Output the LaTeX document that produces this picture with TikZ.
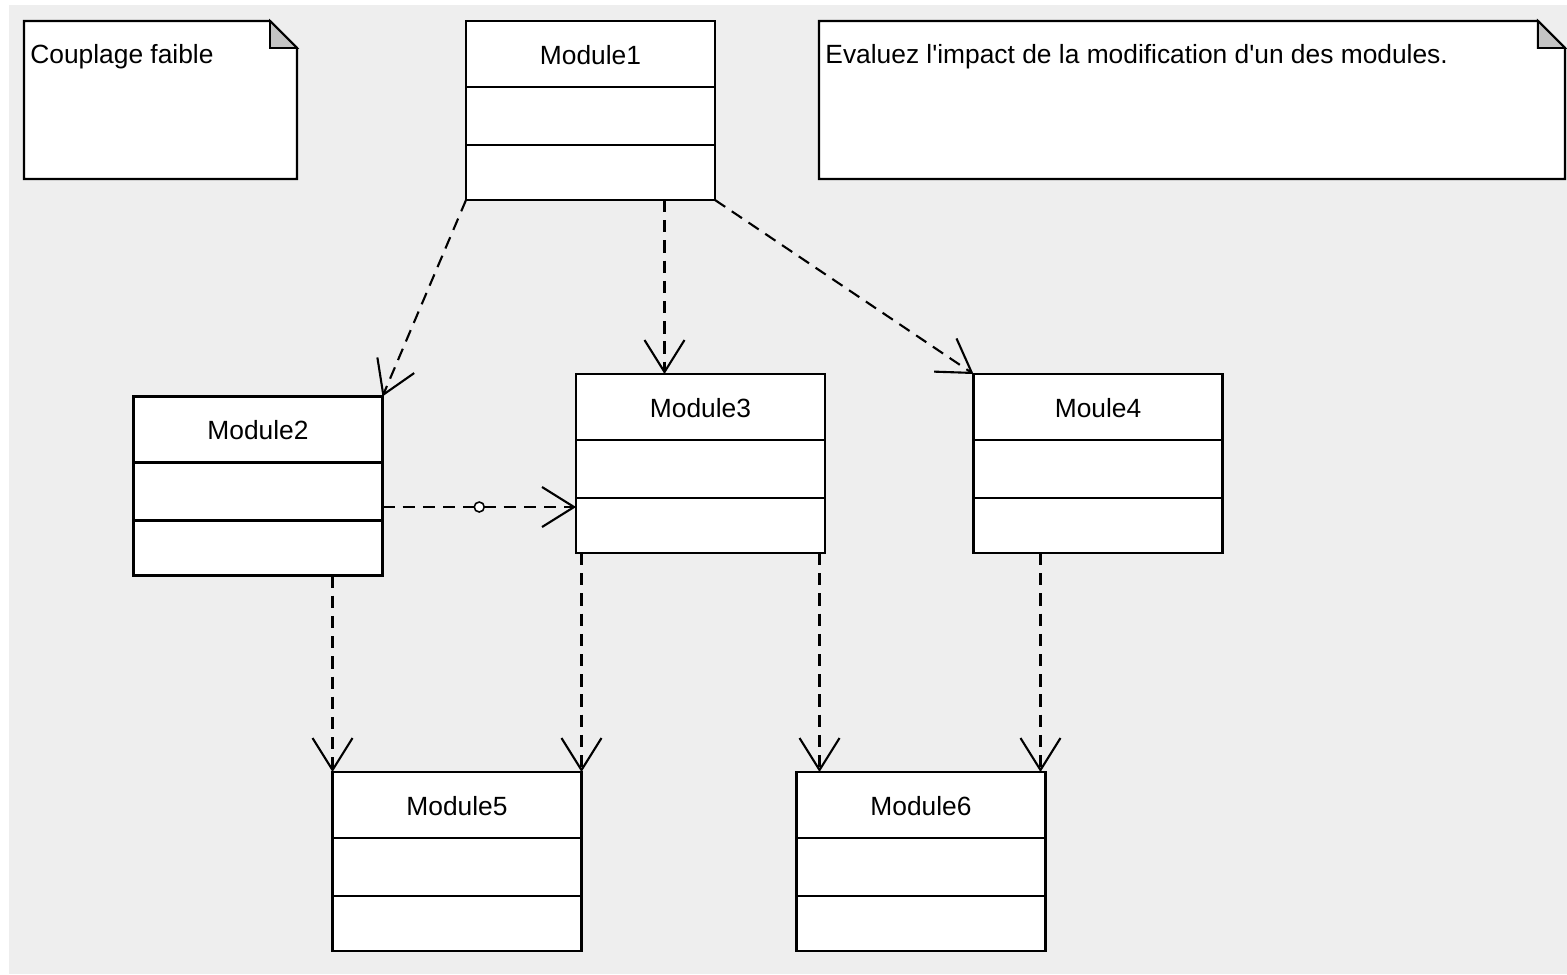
\documentclass[tikz,border=0pt]{standalone}
\usepackage{fontspec}
\setmainfont{Liberation Sans}[Ligatures=TeXOff]
\usetikzlibrary{arrows.meta,calc}
\definecolor{canvasgray}{HTML}{EEEEEE}
\definecolor{foldgray}{HTML}{C4C4C4}
\begin{document}
\begin{tikzpicture}
[x=0.02cm,y=-0.02cm,
  classdecorate/.style={shape=rectangle,draw,fill=white,line width=1.3pt,
    inner sep=0pt,outer sep=0pt,minimum width=4.98cm,minimum height=3.58cm},%
  notedecorate/.style={shape=rectangle,inner sep=0pt,outer sep=0pt,minimum height=3.16cm},%
  textdecorate/.style={font=\fontsize{15}{18}\selectfont,inner sep=0pt},%
  linedecorate/.style={line width=1.2pt,dash pattern=on 7pt off 4.5pt,
    -{Straight Barb[length=0.64cm,width=0.8cm,line width=1.2pt]}},%
  dotdecorate/.style={shape=circle,draw,solid,fill=white,line width=0.9pt,
    inner sep=0pt,minimum size=0.2cm}]
%% canvas
\useasboundingbox (0,0) rectangle (1567,974);
\fill[canvasgray] (9,5) rectangle (1567,974);
%% notes
\foreach \nodename/\x/\y/\w/\txt in {
  note1/160.5/100/5.46cm/{Couplage faible},
  note2/1192/100/14.92cm/{Evaluez l'impact de la modification d'un des modules.}}
{
  \node (\nodename) at (\x,\y) [notedecorate,minimum width=\w] {};
  \draw[fill=white,line width=1.3pt] (\nodename.north west)
    -- ($(\nodename.north east)+(-27,0)$) -- ($(\nodename.north east)+(0,27)$)
    -- (\nodename.south east) -- (\nodename.south west) -- cycle;
  \draw[fill=foldgray,line width=1.1pt] ($(\nodename.north east)+(-27,0)$)
    -- ($(\nodename.north east)+(-27,27)$) -- ($(\nodename.north east)+(0,27)$) -- cycle;
  \node (\nodename text) at ($(\nodename.north west)+(6,36)$) [textdecorate,anchor=west] {\txt};
}
%% classes
\foreach \nodename/\title/\x/\y in {
  Module1/Module1/590.5/110.5, Module2/Module2/258/486,
  Module3/Module3/700.5/463.5, Module4/Moule4/1098/463.5,
  Module5/Module5/457/861.5, Module6/Module6/921/861.5}
{
  \node (\nodename) at (\x,\y) [classdecorate] {};
  \draw[line width=1.3pt] ($(\nodename.north west)+(0,66)$) -- ($(\nodename.north east)+(0,66)$);
  \draw[line width=1.3pt] ($(\nodename.north west)+(0,124)$) -- ($(\nodename.north east)+(0,124)$);
  \node (\nodename title) at ($(\nodename.north)+(0,34)$) [textdecorate] {\title};
}
%% attach points
\coordinate (in3) at ($(Module3.north)+(-36,0)$);
\coordinate (out2) at ($(Module2.east)+(0,21)$);
\coordinate (in6a) at ($(Module6.north west)+(23,0)$);
\coordinate (in6b) at ($(Module6.north east)+(-5,0)$);
%% dependencies
\draw[linedecorate] (Module1.south west) -- (Module2.north east);
\draw[linedecorate] (in3 |- Module1.south) -- (in3);
\draw[linedecorate] (Module1.south east) -- (Module4.north west);
\draw[linedecorate] (out2) -- (out2 -| Module3.west)
  node[pos=0.5,dotdecorate] (link) {};
\draw[linedecorate] (Module5.north west |- Module2.south) -- (Module5.north west);
\draw[linedecorate] (Module5.north east |- Module3.south) -- (Module5.north east);
\draw[linedecorate] (in6a |- Module3.south) -- (in6a);
\draw[linedecorate] (in6b |- Module4.south) -- (in6b);
\end{tikzpicture}
\end{document}
